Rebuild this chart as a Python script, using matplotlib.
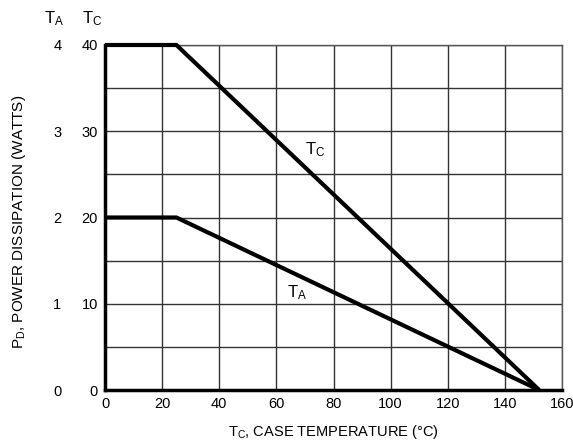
import numpy as np
from matplotlib import pyplot as plt

plt.rcParams['font.family'] = ['Liberation Sans Narrow', 'Liberation Sans', 'DejaVu Sans']
plt.rcParams['mathtext.default'] = 'regular'

# derating curves (temperature in deg C, power in watts)
temp = [0, 25, 152]
pd_tc = [40, 40, 0]
pd_ta = [2, 2, 0]

x_ticks = [0, 20, 40, 60, 80, 100, 120, 140, 160]
tc_ticks = [0, 10, 20, 30, 40]
ta_ticks = [0, 1, 2, 3, 4]

fig = plt.figure(figsize=(5.73, 4.43), dpi=100)
ax = fig.add_axes([105 / 573, 53 / 443, 457 / 573, 345 / 443])

ax.set_xlim(0, 160)
ax.set_ylim(0, 40)
ax.set_xticks(x_ticks)
ax.set_yticks(tc_ticks)
ax.set_yticks(np.arange(0, 41, 5), minor=True)
ax.grid(True, which='both', color='#333333', lw=1.0)
ax.tick_params(which='both', length=0, labelsize=10.5)
ax.tick_params(axis='y', pad=5)
ax.tick_params(axis='x', pad=5)
for s in ['left', 'bottom']:
    ax.spines[s].set_linewidth(2.5)
for s in ['top', 'right']:
    ax.spines[s].set_linewidth(1.0)
    ax.spines[s].set_color('#555555')

ax.plot(temp, pd_tc, color='black', lw=3, solid_capstyle='butt', zorder=5, clip_on=False)

# ambient scale on a twin axis drawn at the left
ax2 = ax.twinx()
ax2.set_ylim(0, 4)
ax2.set_yticks(ta_ticks)
ax2.yaxis.set_ticks_position('left')
ax2.spines['left'].set_position(('outward', 26.5))
for s in ax2.spines.values():
    s.set_visible(False)
ax2.tick_params(length=0, labelsize=10.5, pad=5)
ax2.plot(temp, pd_ta, color='black', lw=3, solid_capstyle='butt', zorder=5, clip_on=False)

ax.text(70, 27.9, '$T_C$', fontsize=12, va='center')
ax.text(63.7, 11.3, '$T_A$', fontsize=12, va='center')

fig.text(54 / 573, 1 - 19 / 443, '$T_A$', fontsize=12, ha='center', va='center')
fig.text(92 / 573, 1 - 19 / 443, '$T_C$', fontsize=12, ha='center', va='center')
fig.text(19 / 573, 1 - 222 / 443, '$P_D$, POWER DISSIPATION (WATTS)', fontsize=11,
         rotation=90, ha='center', va='center')
fig.text(333 / 573, 1 - 432 / 443, '$T_C$, CASE TEMPERATURE (°C)', fontsize=10.5,
         ha='center', va='center')

fig.savefig('out.png', dpi=100)
